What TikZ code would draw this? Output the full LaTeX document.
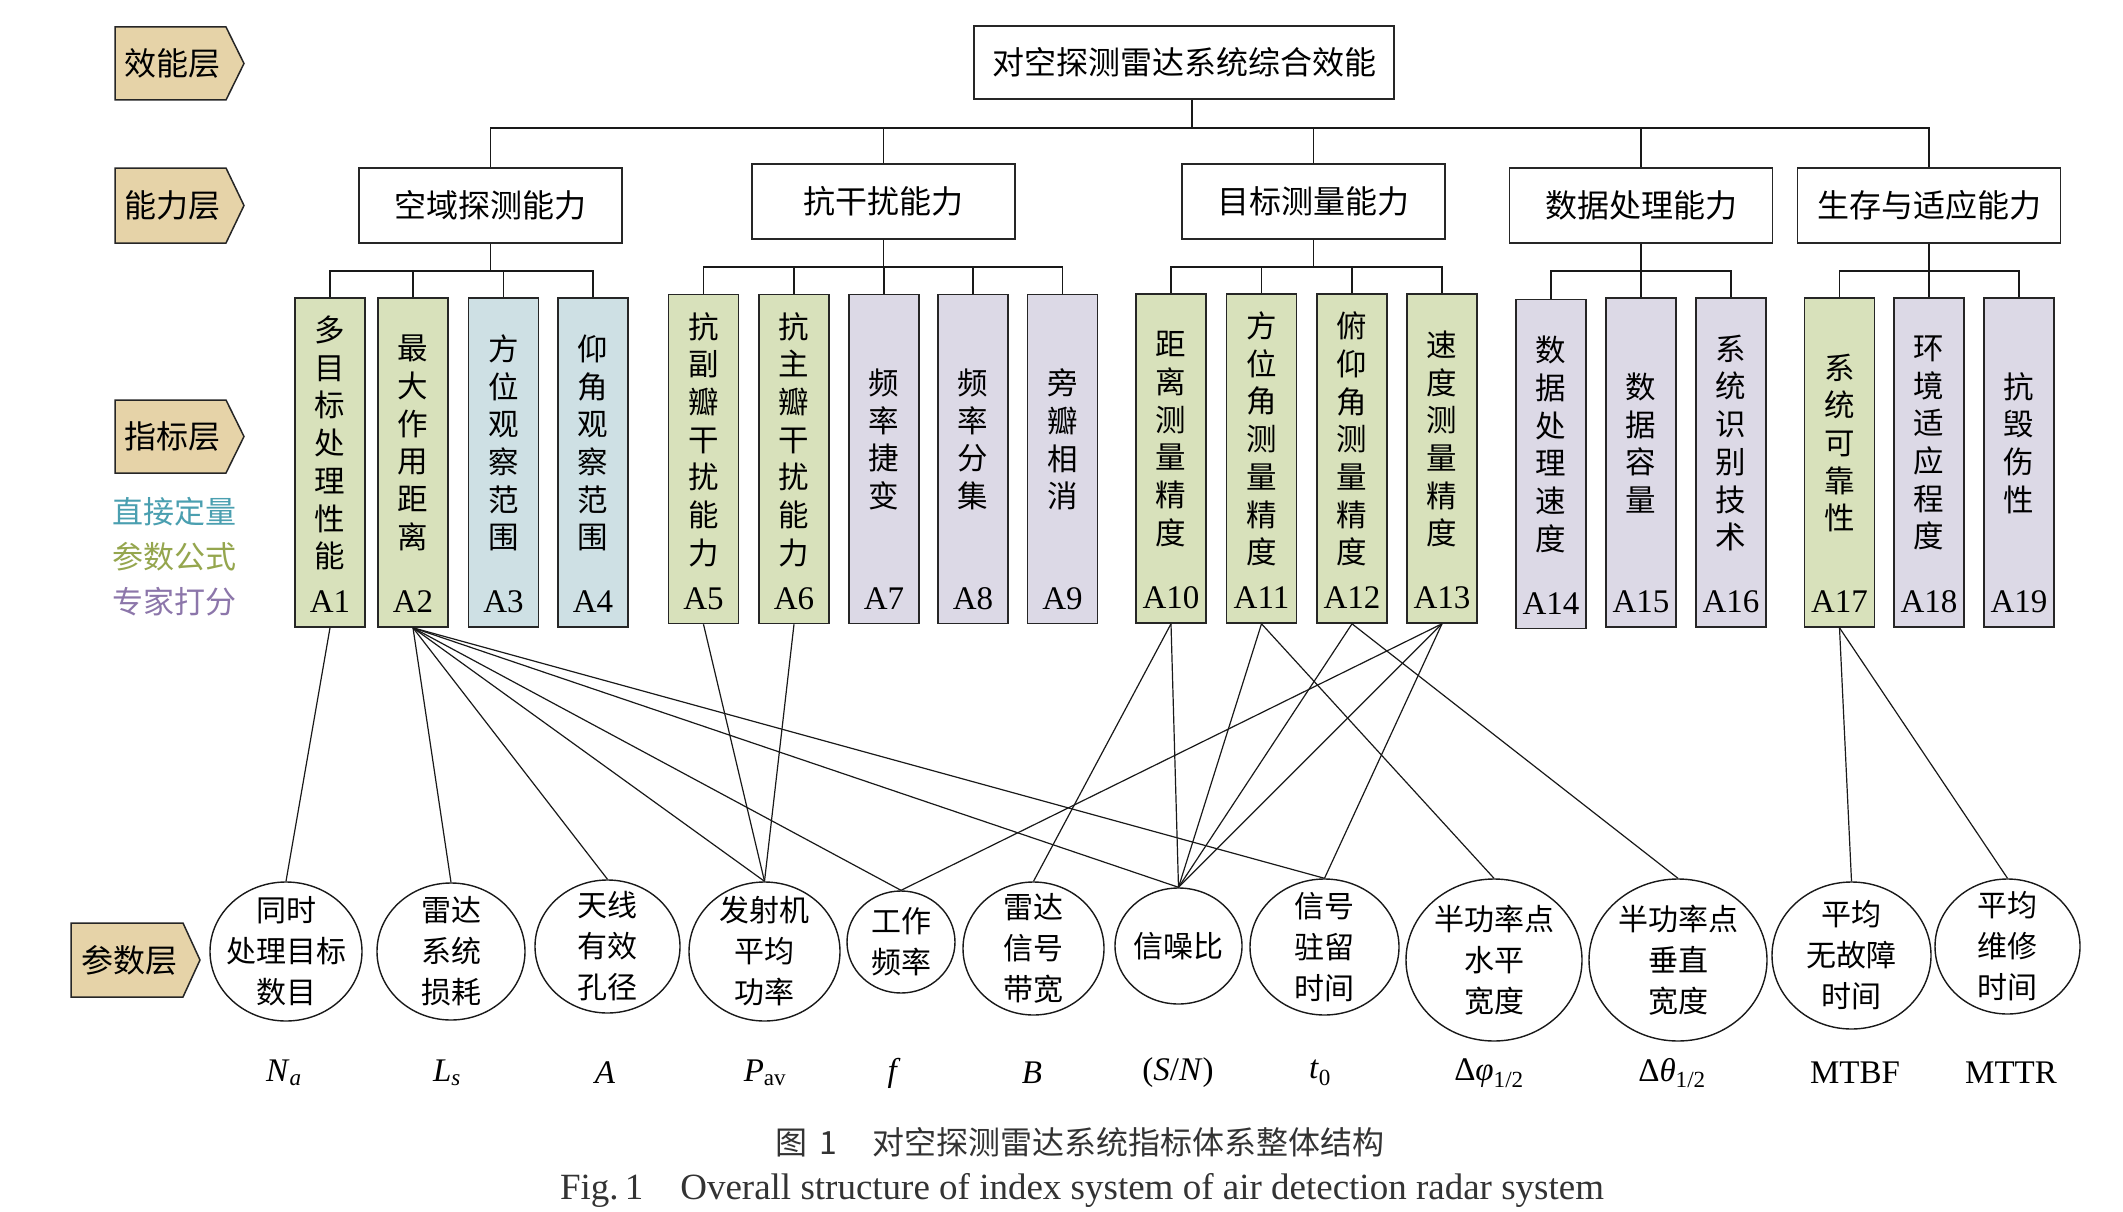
\documentclass[tikz,border=0pt]{standalone}
\usepackage{fontspec}
\setmainfont{Liberation Serif}
\newfontfamily\cjk{Noto Sans CJK SC}
\usetikzlibrary{shapes.geometric}
\definecolor{tagfill}{HTML}{E6D3A8}
\definecolor{gfill}{HTML}{D8E1BB}
\definecolor{bfill}{HTML}{CEE0E4}
\definecolor{pfill}{HTML}{DCD9E6}
\definecolor{cteal}{HTML}{4A9FB0}
\definecolor{colive}{HTML}{95A64E}
\definecolor{cpurp}{HTML}{8C76AA}
\definecolor{capgray}{HTML}{333333}
\newcommand\fsBig{\fontsize{32pt}{36pt}\selectfont}
\newcommand\fsVert{\fontsize{30.5pt}{37.7pt}\selectfont}
\newcommand\fsEll{\fontsize{30pt}{41pt}\selectfont}
\newcommand\fsLab{\fontsize{33pt}{36pt}\selectfont}
\newcommand\fsCap{\fontsize{32pt}{36pt}\selectfont}
\newcommand\fsCapE{\fontsize{37pt}{40pt}\selectfont}
\begin{document}
\begin{tikzpicture}[x=1pt,y=-1pt,
  tagbox/.style={draw=black!85, line width=1.5pt, fill=tagfill, line join=miter},
  tagtxt/.style={inner sep=0pt, font=\cjk\fsBig},
  abil/.style={draw=black!85, line width=1.6pt, minimum width=263pt, minimum height=75pt, inner sep=0pt, font=\cjk\fsBig},
  ind/.style={draw=black!85, line width=1.6pt, minimum width=70pt, minimum height=329pt, inner sep=0pt},
  vtxt/.style={inner sep=0pt, align=center, font=\cjk\fsVert},
  idlab/.style={inner sep=0pt, font=\fsLab},
  ell/.style={draw=black!90, ellipse, line width=1.4pt, inner sep=0pt},
  etxt/.style={inner sep=0pt, align=center, font=\cjk\fsEll},
  sym/.style={inner sep=0pt, font=\fsLab},
  legend/.style={inner sep=0pt, font=\cjk\fontsize{31pt}{36pt}\selectfont},
  tree/.style={line width=1.7pt, draw=black!90},
  conn/.style={line width=1.2pt, draw=black!90}
]
\useasboundingbox[fill=white] (0,0) rectangle (2123,1212);

% layer tags
\path[tagbox] (115,27) -- (226,27) -- (244,63.5) -- (226,100) -- (115,100) -- cycle;
\node[tagtxt] (g1) at (172,63.5) {效能层};
\path[tagbox] (115,168) -- (226,168) -- (244,205.5) -- (226,243) -- (115,243) -- cycle;
\node[tagtxt] (g2) at (172,205.5) {能力层};
\path[tagbox] (115,400) -- (226,400) -- (244,436.5) -- (226,473) -- (115,473) -- cycle;
\node[tagtxt] (g3) at (172,436.5) {指标层};
\path[tagbox] (71,923) -- (183,923) -- (200,960) -- (183,997) -- (71,997) -- cycle;
\node[tagtxt] (g4) at (129,960) {参数层};

% legend
\node[legend, text=cteal] (lg1) at (174,512) {直接定量};
\node[legend, text=colive] (lg2) at (174,557) {参数公式};
\node[legend, text=cpurp] (lg3) at (174,602) {专家打分};

% top and ability boxes
\node[abil, minimum width=420pt, minimum height=73pt] (top) at (1184,62.5) {对空探测雷达系统综合效能};
\node[abil] (c1) at (490.5,205.5) {空域探测能力};
\node[abil] (c2) at (883.5,201.5) {抗干扰能力};
\node[abil] (c3) at (1313.5,201.5) {目标测量能力};
\node[abil] (c4) at (1641,205.5) {数据处理能力};
\node[abil] (c5) at (1929,205.5) {生存与适应能力};

\coordinate (bus) at (0,128);
\draw[tree] ([xshift=8pt]top.south) -- ([xshift=8pt]top.south |- bus);
\draw[tree] (c1.north) -- (c1.north |- bus) -- (c5.north |- bus) -- (c5.north);
\foreach \c in {2,3,4} \draw[tree] (c\c.north) -- (c\c.north |- bus);

% indicator boxes
\foreach \n/\cx/\cy/\fc/\tx in {
  1/330/462.5/gfill/{多\\目\\标\\处\\理\\性\\能},
  2/413/462.5/gfill/{最\\大\\作\\用\\距\\离},
  3/503.5/462.5/bfill/{方\\位\\观\\察\\范\\围},
  4/593/462.5/bfill/{仰\\角\\观\\察\\范\\围},
  5/703.5/459/gfill/{抗\\副\\瓣\\干\\扰\\能\\力},
  6/794/459/gfill/{抗\\主\\瓣\\干\\扰\\能\\力},
  7/884/459/pfill/{频\\率\\捷\\变},
  8/973/459/pfill/{频\\率\\分\\集},
  9/1062.5/459/pfill/{旁\\瓣\\相\\消},
  10/1171/458.5/gfill/{距\\离\\测\\量\\精\\度},
  11/1261.5/458.5/gfill/{方\\位\\角\\测\\量\\精\\度},
  12/1352/458.5/gfill/{俯\\仰\\角\\测\\量\\精\\度},
  13/1442/458.5/gfill/{速\\度\\测\\量\\精\\度},
  14/1551/464/pfill/{数\\据\\处\\理\\速\\度},
  15/1641/462.5/pfill/{数\\据\\容\\量},
  16/1731/462.5/pfill/{系\\统\\识\\别\\技\\术},
  17/1839.5/462.5/gfill/{系\\统\\可\\靠\\性},
  18/1929/462.5/pfill/{环\\境\\适\\应\\程\\度},
  19/2019/462.5/pfill/{抗\\毁\\伤\\性}}{
  \node[ind, fill=\fc] (a\n) at (\cx,\cy) {};
  \node[vtxt] (a\n t) at ([yshift=19.5pt]a\n.center) {\tx};
  \node[idlab] (a\n l) at ([yshift=-139.5pt]a\n.center) {A\n};
}

% sub-trees
\coordinate (sbA) at (0,271);
\coordinate (sbB) at (0,267);
\draw[tree] (c1.south) -- (c1.south |- sbA);
\draw[tree] (a1.north) -- (a1.north |- sbA) -- (a4.north |- sbA) -- (a4.north);
\foreach \k in {2,3} \draw[tree] (a\k.north) -- (a\k.north |- sbA);
\draw[tree] (c2.south) -- (c2.south |- sbB);
\draw[tree] (a5.north) -- (a5.north |- sbB) -- (a9.north |- sbB) -- (a9.north);
\foreach \k in {6,7,8} \draw[tree] (a\k.north) -- (a\k.north |- sbB);
\draw[tree] (c3.south) -- (c3.south |- sbB);
\draw[tree] (a10.north) -- (a10.north |- sbB) -- (a13.north |- sbB) -- (a13.north);
\foreach \k in {11,12} \draw[tree] (a\k.north) -- (a\k.north |- sbB);
\draw[tree] (c4.south) -- (c4.south |- sbA);
\draw[tree] (a14.north) -- (a14.north |- sbA) -- (a16.north |- sbA) -- (a16.north);
\draw[tree] (a15.north) -- (a15.north |- sbA);
\draw[tree] (c5.south) -- (c5.south |- sbA);
\draw[tree] (a17.north) -- (a17.north |- sbA) -- (a19.north |- sbA) -- (a19.north);
\draw[tree] (a18.north) -- (a18.north |- sbA);

% parameter ellipses
\foreach \n/\cx/\cy/\w/\h/\tx in {
  1/286/951.5/152/139/{同时\\处理目标\\数目},
  2/451/951.5/148/137/{雷达\\系统\\损耗},
  3/607.5/946.5/145/133/{天线\\有效\\孔径},
  4/764.5/951.5/151/139/{发射机\\平均\\功率},
  5/901/942/108/102/{工作\\频率},
  6/1033.5/948.5/141/133/{雷达\\信号\\带宽},
  7/1178.5/946/127/116/{信噪比},
  8/1324.5/947/149/136/{信号\\驻留\\时间},
  9/1494/960/176/162/{半功率点\\水平\\宽度},
  10/1678/960/178/162/{半功率点\\垂直\\宽度},
  11/1851.5/955.5/159/147/{平均\\无故障\\时间},
  12/2007.5/946.5/145/135/{平均\\维修\\时间}}{
  \node[ell, minimum width=\w pt, minimum height=\h pt] (e\n) at (\cx,\cy) {};
  \node[etxt] (e\n t) at (e\n.center) {\tx};
}

% connectors
\foreach \s/\t in {1/1, 2/2, 2/3, 2/4, 2/5, 2/7, 2/8, 5/4, 6/4, 10/6, 10/7,
                   11/7, 11/9, 12/7, 12/10, 13/5, 13/7, 13/8, 17/11, 17/12}
  \draw[conn] (a\s.south) -- (e\t.north);

% symbols
\node[sym] (s1) at (284,1073) {\textit{N}\textsubscript{\textit{a}}};
\node[sym] (s2) at (447,1073) {\textit{L}\textsubscript{\textit{s}}};
\node[sym] (s3) at (605,1073) {\textit{A}};
\node[sym] (s4) at (765,1073) {\textit{P}\textsubscript{av}};
\node[sym] (s5) at (894,1073) {\textit{f}};
\node[sym] (s6) at (1032,1073) {\textit{B}};
\node[sym] (s7) at (1178,1073) {(\textit{S}/\textit{N})};
\node[sym] (s8) at (1320,1073) {\textit{t}\textsubscript{0}};
\node[sym] (s9) at (1489,1073) {Δ\textit{φ}\textsubscript{1/2}};
\node[sym] (s10) at (1672,1073) {Δ\textit{θ}\textsubscript{1/2}};
\node[sym] (s11) at (1855,1073) {MTBF};
\node[sym] (s12) at (2011,1073) {MTTR};

% caption
\node[inner sep=0pt, text=capgray, font=\cjk\fsCap] (cap1) at (1080,1142) {图\hspace{0.4em}1\hspace{1.1em}对空探测雷达系统指标体系整体结构};
\node[inner sep=0pt, text=capgray, font=\fsCapE] (cap2) at (1082,1190) {Fig.\,1\hspace{1em}Overall structure of index system of air detection radar system};
\end{tikzpicture}
\end{document}
